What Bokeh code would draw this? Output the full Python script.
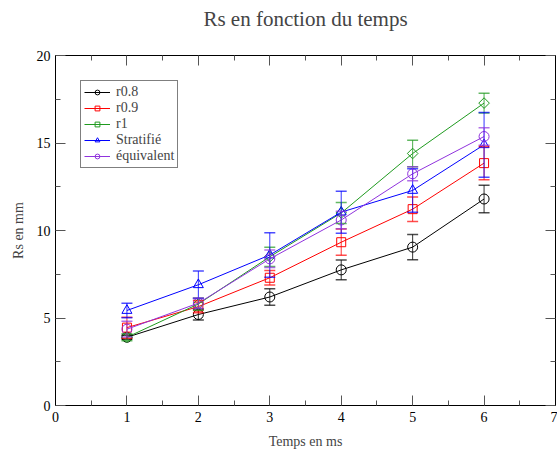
import math
from bokeh.plotting import figure
from bokeh.models import (ColumnDataSource, FixedTicker, LinearAxis, Whisker, TeeHead,
                          Legend, LegendItem)
from bokeh.embed import file_html
from bokeh.resources import INLINE

# ---- data ----
times = [1, 2, 3, 4, 5, 6]
r08 = [3.9, 5.2, 6.2, 7.75, 9.05, 11.8]
r08_err = [0.12, 0.32, 0.47, 0.56, 0.72, 0.79]
r09 = [4.45, 5.65, 7.3, 9.33, 11.22, 13.85]
r09_err = [0.6, 0.35, 0.42, 0.75, 0.7, 0.95]
r1 = [3.9, 5.8, 8.5, 11.0, 14.4, 17.28]
r1_err = [0.2, 0.35, 0.55, 0.6, 0.76, 0.57]
strat = [5.43, 6.9, 8.6, 11.05, 12.29, 14.9]
strat_err = [0.42, 0.78, 1.27, 1.2, 1.24, 1.85]
equiv = [4.36, 5.85, 8.38, 10.6, 13.24, 15.37]
equiv_err = [0.45, 0.3, 0.5, 0.5, 0.4, 0.5]

series_names = ["r0.8", "r0.9", "r1", "Stratifié", "équivalent"]
x_ticks = [0, 1, 2, 3, 4, 5, 6, 7]
y_ticks = [0, 5, 10, 15, 20]
title_text = "Rs en fonction du temps"

FONT = "Liberation Serif"

p = figure(width=557, height=455, x_range=(0, 7), y_range=(0, 20),
           output_backend="svg", toolbar_location=None,
           min_border_left=55, min_border_right=2, min_border_top=55, min_border_bottom=50)
p.outline_line_color = "black"
p.xgrid.visible = False
p.ygrid.visible = False

xt = FixedTicker(ticks=x_ticks, minor_ticks=[v + 0.5 for v in x_ticks[:-1]])
yt = FixedTicker(ticks=y_ticks, minor_ticks=[v + 2.5 for v in y_ticks[:-1]])

def style_axis(ax, labels=True):
    ax.major_tick_in = 10
    ax.major_tick_out = 0
    ax.minor_tick_in = 5
    ax.minor_tick_out = 0
    ax.axis_line_color = "black"
    ax.major_tick_line_color = "#555555"
    ax.minor_tick_line_color = "#555555"
    ax.major_label_text_font = FONT
    if labels:
        ax.major_label_text_font_size = "14px"
        ax.major_label_text_color = "black"
    else:
        ax.major_label_text_font_size = "1px"
        ax.major_label_text_color = None
        ax.major_label_standoff = 0
    ax.axis_label_text_font = FONT
    ax.axis_label_text_font_size = "14px"
    ax.axis_label_text_font_style = "normal"

p.xaxis.ticker = xt
p.yaxis.ticker = yt
style_axis(p.xaxis[0])
style_axis(p.yaxis[0])
p.xaxis.axis_label = "Temps en ms"
p.yaxis.axis_label = "Rs en mm"
p.xaxis.major_label_standoff = 6
p.xaxis.axis_label_standoff = 9
p.yaxis.major_label_standoff = 5
p.yaxis.axis_label_standoff = 8

# top axis: inward ticks only, its axis label serves as the chart title
top = LinearAxis(ticker=xt)
style_axis(top, labels=False)
top.axis_label = title_text
top.axis_label_text_font_size = "21px"
top.axis_label_standoff = 25
p.add_layout(top, "above")
right = LinearAxis(ticker=yt)
style_axis(right, labels=False)
p.add_layout(right, "right")

colors = ["black", "#ff0000", "#1f9a1f", "#0000ff", "#9033dd"]
values = [r08, r09, r1, strat, equiv]
errs = [r08_err, r09_err, r1_err, strat_err, equiv_err]
markers = ["circle", "square", "square", "triangle", "circle"]
angles = [0, 0, math.pi / 4, 0, 0]
sizes = [10, 9, 7.5, 10, 10]

items = []
for name, col, vals, er, mk, ang, sz in zip(series_names, colors, values, errs, markers, angles, sizes):
    src = ColumnDataSource(dict(x=times, y=vals,
                                upper=[v + e for v, e in zip(vals, er)],
                                lower=[v - e for v, e in zip(vals, er)]))
    w = Whisker(source=src, base="x", upper="upper", lower="lower",
                line_color=col, line_width=1, line_alpha=0.8,
                upper_head=TeeHead(size=11, line_color=col, line_width=1.5, line_alpha=0.7),
                lower_head=TeeHead(size=11, line_color=col, line_width=1.5, line_alpha=0.7))
    w.level = "glyph"
    p.add_layout(w)
    ln = p.line("x", "y", source=src, line_color=col, line_width=1)
    sc = p.scatter("x", "y", source=src, marker=mk, size=sz, angle=ang,
                   fill_color=None, line_color=col, line_width=1)
    items.append(LegendItem(label=name, renderers=[ln, sc]))

legend = Legend(items=items, location="top_left")
legend.label_text_font = FONT
legend.label_text_font_size = "14px"
legend.label_text_line_height = 0.85
legend.glyph_width = 26
legend.glyph_height = 12
legend.label_height = 12
legend.label_standoff = 6
legend.spacing = 0
legend.padding = 3
legend.margin = 25
legend.border_line_color = "black"
legend.border_line_width = 1
legend.background_fill_alpha = 1
p.add_layout(legend, "center")

open("out.html", "w").write(file_html(p, INLINE))
